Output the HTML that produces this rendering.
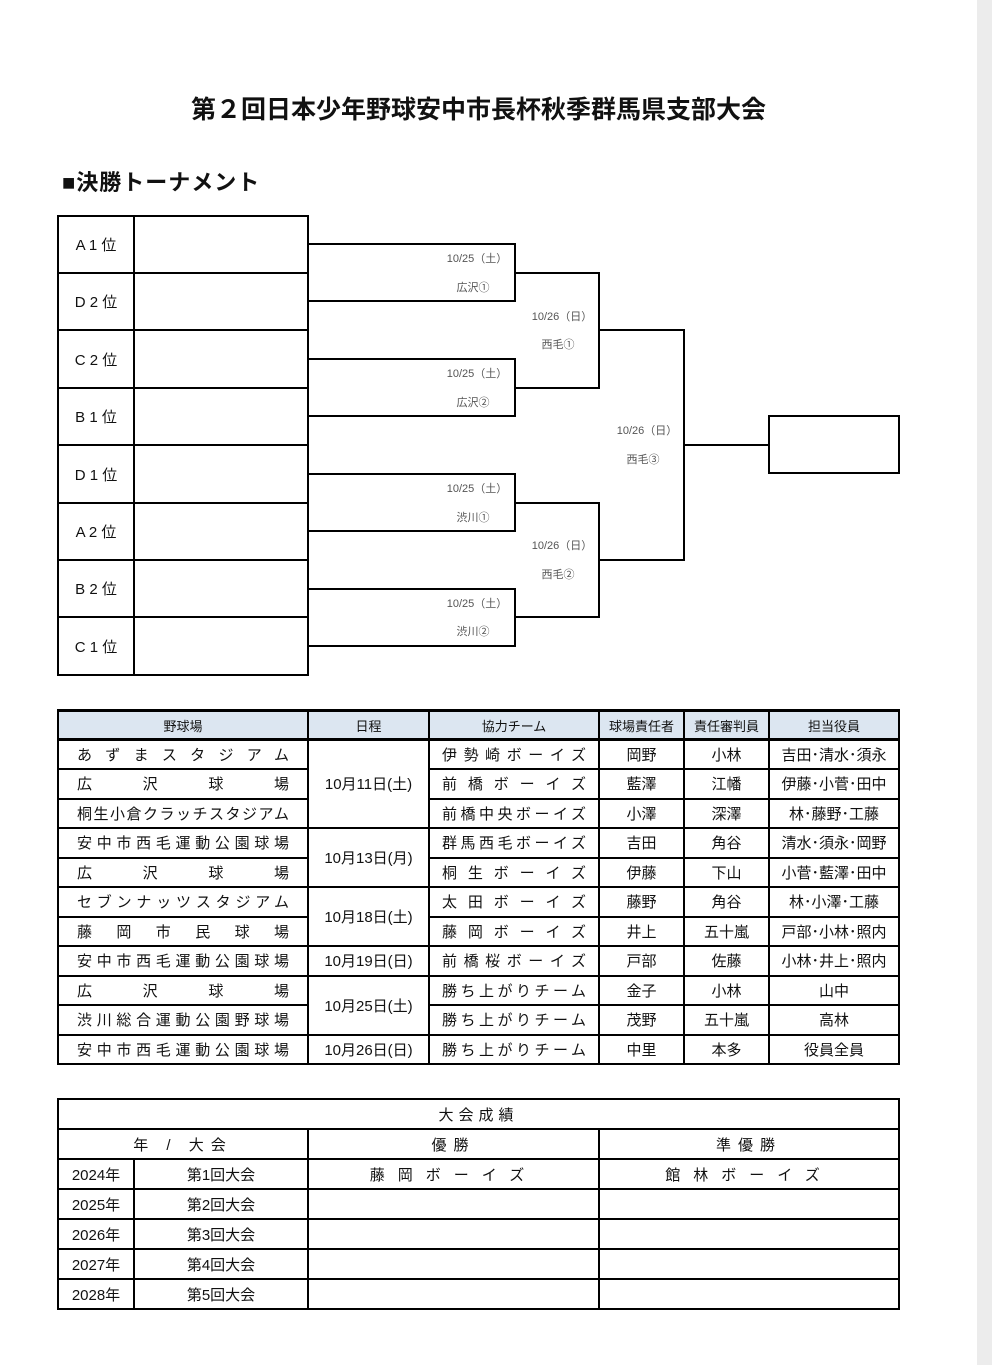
<!DOCTYPE html>
<html><head><meta charset="utf-8"><style>
body{margin:0;width:992px;height:1365px;background:#fff;position:relative;overflow:hidden;font-family:"Liberation Sans","Noto Sans CJK JP",sans-serif;color:#111}
.strip{position:absolute;left:977px;top:0;width:15px;height:1365px;background:#ececec}
.h{position:absolute;height:2px;background:#000}
.v{position:absolute;width:2px;background:#000}
.lb{position:absolute;font-size:11px;color:#555;width:80px;text-align:center}
table{position:absolute;border-collapse:collapse;table-layout:fixed}
td{border:2px solid #000;padding:0;text-align:center;font-size:15px;white-space:nowrap;overflow:hidden}
.j{text-align:justify;text-align-last:justify;padding:0 18px}
.jm{text-align:justify;text-align-last:justify;padding:0 12px}
</style></head><body>
<div class="strip"></div>
<div style="position:absolute;left:0;width:957px;top:90px;text-align:center;font-size:25px;font-weight:bold">第２回日本少年野球安中市長杯秋季群馬県支部大会</div>
<div style="position:absolute;left:62px;top:165px;font-size:22px;font-weight:bold;letter-spacing:1px">■決勝トーナメント</div>

<table style="left:57px;top:215px;width:250px">
<colgroup><col style="width:76px"><col style="width:174px"></colgroup>
<tr style="height:57px"><td>A 1 位</td><td></td></tr>
<tr style="height:57px"><td>D 2 位</td><td></td></tr>
<tr style="height:58px"><td>C 2 位</td><td></td></tr>
<tr style="height:57px"><td>B 1 位</td><td></td></tr>
<tr style="height:58px"><td>D 1 位</td><td></td></tr>
<tr style="height:57px"><td>A 2 位</td><td></td></tr>
<tr style="height:57px"><td>B 2 位</td><td></td></tr>
<tr style="height:58px"><td>C 1 位</td><td></td></tr>
</table>

<div class="h" style="left:308px;top:243px;width:208px"></div>
<div class="h" style="left:308px;top:300px;width:208px"></div>
<div class="v" style="left:514px;top:243px;height:59px"></div>
<div class="h" style="left:514px;top:272px;width:86px"></div>
<div class="h" style="left:308px;top:358px;width:208px"></div>
<div class="h" style="left:308px;top:415px;width:208px"></div>
<div class="v" style="left:514px;top:358px;height:59px"></div>
<div class="h" style="left:514px;top:387px;width:86px"></div>
<div class="v" style="left:598px;top:272px;height:117px"></div>
<div class="h" style="left:598px;top:329px;width:87px"></div>

<div class="h" style="left:308px;top:473px;width:208px"></div>
<div class="h" style="left:308px;top:530px;width:208px"></div>
<div class="v" style="left:514px;top:473px;height:59px"></div>
<div class="h" style="left:514px;top:502px;width:86px"></div>
<div class="h" style="left:308px;top:588px;width:208px"></div>
<div class="h" style="left:308px;top:645px;width:208px"></div>
<div class="v" style="left:514px;top:588px;height:59px"></div>
<div class="h" style="left:514px;top:616px;width:86px"></div>
<div class="v" style="left:598px;top:502px;height:116px"></div>
<div class="h" style="left:598px;top:559px;width:87px"></div>
<div class="v" style="left:683px;top:329px;height:232px"></div>
<div class="h" style="left:683px;top:444px;width:87px"></div>
<div style="position:absolute;left:768px;top:415px;width:128px;height:55px;border:2px solid #000"></div>

<div class="lb" style="left:437px;top:250px">10/25（土）</div><div class="lb" style="left:433px;top:279px">広沢①</div>
<div class="lb" style="left:437px;top:365px">10/25（土）</div><div class="lb" style="left:433px;top:394px">広沢②</div>
<div class="lb" style="left:437px;top:480px">10/25（土）</div><div class="lb" style="left:433px;top:509px">渋川①</div>
<div class="lb" style="left:437px;top:595px">10/25（土）</div><div class="lb" style="left:433px;top:623px">渋川②</div>
<div class="lb" style="left:522px;top:308px">10/26（日）</div><div class="lb" style="left:518px;top:336px">西毛①</div>
<div class="lb" style="left:522px;top:537px">10/26（日）</div><div class="lb" style="left:518px;top:566px">西毛②</div>
<div class="lb" style="left:607px;top:422px">10/26（日）</div><div class="lb" style="left:603px;top:451px">西毛③</div>

<table style="left:57px;top:709px;width:841px">
<colgroup><col style="width:250px"><col style="width:121px"><col style="width:170px"><col style="width:85px"><col style="width:85px"><col style="width:130px"></colgroup>
<tr style="height:29px;background:#dce6f1;font-size:13px"><td style="font-size:13px;border-width:3px 2px">野球場</td><td style="font-size:13px;border-width:3px 2px">日程</td><td style="font-size:13px;border-width:3px 2px">協力チーム</td><td style="font-size:13px;border-width:3px 2px">球場責任者</td><td style="font-size:13px;border-width:3px 2px">責任審判員</td><td style="font-size:13px;border-width:3px 2px">担当役員</td></tr>
<tr style="height:29px"><td class="j">あずまスタジアム</td><td rowspan="3">10月11日(土)</td><td class="jm">伊勢崎ボーイズ</td><td>岡野</td><td>小林</td><td>吉田･清水･須永</td></tr>
<tr style="height:30px"><td class="j">広沢球場</td><td class="jm">前橋ボーイズ</td><td>藍澤</td><td>江幡</td><td>伊藤･小菅･田中</td></tr>
<tr style="height:29px"><td class="j">桐生小倉クラッチスタジアム</td><td class="jm">前橋中央ボーイズ</td><td>小澤</td><td>深澤</td><td>林･藤野･工藤</td></tr>
<tr style="height:30px"><td class="j">安中市西毛運動公園球場</td><td rowspan="2">10月13日(月)</td><td class="jm">群馬西毛ボーイズ</td><td>吉田</td><td>角谷</td><td>清水･須永･岡野</td></tr>
<tr style="height:29px"><td class="j">広沢球場</td><td class="jm">桐生ボーイズ</td><td>伊藤</td><td>下山</td><td>小菅･藍澤･田中</td></tr>
<tr style="height:30px"><td class="j">セブンナッツスタジアム</td><td rowspan="2">10月18日(土)</td><td class="jm">太田ボーイズ</td><td>藤野</td><td>角谷</td><td>林･小澤･工藤</td></tr>
<tr style="height:29px"><td class="j">藤岡市民球場</td><td class="jm">藤岡ボーイズ</td><td>井上</td><td>五十嵐</td><td>戸部･小林･照内</td></tr>
<tr style="height:30px"><td class="j">安中市西毛運動公園球場</td><td>10月19日(日)</td><td class="jm">前橋桜ボーイズ</td><td>戸部</td><td>佐藤</td><td>小林･井上･照内</td></tr>
<tr style="height:29px"><td class="j">広沢球場</td><td rowspan="2">10月25日(土)</td><td class="jm">勝ち上がりチーム</td><td>金子</td><td>小林</td><td>山中</td></tr>
<tr style="height:30px"><td class="j">渋川総合運動公園野球場</td><td class="jm">勝ち上がりチーム</td><td>茂野</td><td>五十嵐</td><td>高林</td></tr>
<tr style="height:29px"><td class="j">安中市西毛運動公園球場</td><td>10月26日(日)</td><td class="jm">勝ち上がりチーム</td><td>中里</td><td>本多</td><td>役員全員</td></tr>
</table>

<table style="left:57px;top:1098px;width:841px">
<colgroup><col style="width:76px"><col style="width:174px"><col style="width:291px"><col style="width:300px"></colgroup>
<tr style="height:30px"><td colspan="4" style="letter-spacing:5px">大会成績</td></tr>
<tr style="height:30px"><td colspan="2" style="letter-spacing:7px">年 / 大会</td><td style="letter-spacing:7px">優勝</td><td style="letter-spacing:7px">準優勝</td></tr>
<tr style="height:30px"><td>2024年</td><td>第1回大会</td><td style="letter-spacing:13px">藤岡ボーイズ</td><td style="letter-spacing:13px">館林ボーイズ</td></tr>
<tr style="height:30px"><td>2025年</td><td>第2回大会</td><td></td><td></td></tr>
<tr style="height:30px"><td>2026年</td><td>第3回大会</td><td></td><td></td></tr>
<tr style="height:30px"><td>2027年</td><td>第4回大会</td><td></td><td></td></tr>
<tr style="height:30px"><td>2028年</td><td>第5回大会</td><td></td><td></td></tr>
</table>
</body></html>
